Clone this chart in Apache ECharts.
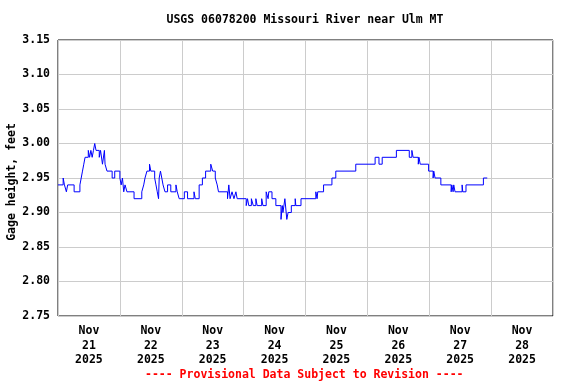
<!DOCTYPE html>
<html>
<head>
<meta charset="utf-8">
<script src="https://cdn.jsdelivr.net/npm/echarts@6/dist/echarts.min.js"></script>
<style>html,body{margin:0;padding:0;background:#fff;}#c{width:576px;height:384px;}</style>
</head>
<body>
<div id="c"></div>
<script>
// Hours since 2025-11-21 00:00 at which the gage height changes, and the new value (feet)
var hoursSinceStart = [0,2,2.5,3.25,3.75,6.25,8.5,9,9.5,10,10.5,11.75,12.25,12.75,13.25,13.75,14.25,14.75,16,16.5,17.25,18,18.25,19,21,22,24,24.5,25,25.5,26,26.75,29.5,32.5,33.25,33.75,34.5,35.5,36,37.5,38,38.5,39,39.25,39.75,40.25,40.75,41.5,42.5,43.75,45.75,46.25,47,49,50.25,52.75,53.25,54.75,56,57.25,59.25,60,61,61.75,62.25,65.75,66.25,66.75,67.5,68.25,69,69.5,73,73.5,74,75,75.75,76.75,77.25,79,79.5,80.75,81.5,81.75,83,84.5,86.5,87,87.25,88,88.75,89.25,90.5,92,92.25,94.25,100,100.5,100.75,103,106.25,107.75,115.5,123,124.5,125.75,131.25,136.25,137.25,137.75,139.75,140,140.5,143.75,145.5,145.75,146.25,148.5,152.5,152.75,153.25,153.5,154,156.75,157,158.25,165,166.5];
var gageHeight = [2.94,2.95,2.94,2.93,2.94,2.93,2.94,2.95,2.96,2.97,2.98,2.99,2.98,2.99,2.98,2.99,3.00,2.99,2.98,2.99,2.97,2.99,2.97,2.96,2.95,2.96,2.95,2.94,2.95,2.93,2.94,2.93,2.92,2.93,2.94,2.95,2.96,2.97,2.96,2.95,2.94,2.93,2.92,2.95,2.96,2.95,2.94,2.93,2.94,2.93,2.94,2.93,2.92,2.93,2.92,2.93,2.92,2.94,2.95,2.96,2.97,2.96,2.95,2.94,2.93,2.92,2.94,2.92,2.93,2.92,2.93,2.92,2.91,2.92,2.91,2.92,2.91,2.92,2.91,2.92,2.91,2.93,2.92,2.93,2.92,2.91,2.89,2.91,2.90,2.92,2.89,2.90,2.91,2.92,2.91,2.92,2.93,2.92,2.93,2.94,2.95,2.96,2.97,2.98,2.97,2.98,2.99,2.98,2.99,2.98,2.97,2.98,2.97,2.96,2.95,2.96,2.95,2.94,2.93,2.94,2.93,2.94,2.93,2.94,2.93,2.94,2.95,2.95];
var monthLabel = 'Nov';
var dayLabels = ['21','22','23','24','25','26','27','28'];
var yearLabel = '2025';
var yTicks = [2.75,2.80,2.85,2.90,2.95,3.00,3.05,3.10,3.15];
var titleText = 'USGS 06078200 Missouri River near Ulm MT';
var footerText = '---- Provisional Data Subject to Revision ----';
var yName = 'Gage height, feet';

var FONT = '"DejaVu Sans Mono", monospace';
var data = hoursSinceStart.map(function(h, i){ return [h, gageHeight[i]]; });
var chart = echarts.init(document.getElementById('c'));
chart.setOption({
  animation: false,
  backgroundColor: '#fff',
  grid: {left: 58, right: 23, top: 40, bottom: 68, containLabel: false, outerBoundsMode: 'none',
         show: true, borderColor: '#000', borderWidth: 1, backgroundColor: 'transparent'},
  graphic: [
    {type: 'text', left: 305.5 - 139, top: 14, style: {text: titleText, font: 'bold 11.5px ' + FONT, fill: '#000'}},
    {type: 'text', left: 145, top: 369, style: {text: footerText, font: 'bold 11.5px ' + FONT, fill: '#ff0000'}},
    {type: 'text', x: 12, y: 182, rotation: Math.PI / 2,
     style: {text: yName, font: 'bold 11.5px ' + FONT, fill: '#000', align: 'center', verticalAlign: 'middle'}}
  ],
  xAxis: [
    {type: 'value', min: 0, max: 24 * dayLabels.length, interval: 24, position: 'bottom',
     axisLine: {show: false}, axisTick: {show: false}, axisLabel: {show: false},
     splitLine: {show: true, lineStyle: {color: '#cccccc', width: 1}}},
    {type: 'value', min: 0, max: 24 * dayLabels.length, interval: 12, position: 'bottom',
     axisLine: {show: false}, axisTick: {show: false}, splitLine: {show: false},
     axisLabel: {show: true, margin: 8, color: '#000', fontFamily: FONT, fontWeight: 'bold', fontSize: 11.5, lineHeight: 14.5,
       showMinLabel: false, showMaxLabel: false,
       formatter: function(v){
         if (Math.round(v) % 24 !== 12) return '';
         var d = dayLabels[Math.floor(v / 24)];
         return monthLabel + '\n' + d + '\n' + yearLabel;
       }}}
  ],
  yAxis: {
    type: 'value', min: yTicks[0], max: yTicks[yTicks.length - 1], interval: 0.05,
    axisLine: {show: false}, axisTick: {show: false},
    axisLabel: {margin: 8, color: '#000', fontFamily: FONT, fontWeight: 'bold', fontSize: 11.5,
      formatter: function(v){ return v.toFixed(2); }},
    splitLine: {show: true, lineStyle: {color: '#cccccc', width: 1}}
  },
  series: [{
    type: 'line', xAxisIndex: 0, data: data, step: 'end', showSymbol: false,
    lineStyle: {color: '#0000ff', width: 1}, itemStyle: {color: '#0000ff'}
  }]
});
</script>
</body>
</html>
